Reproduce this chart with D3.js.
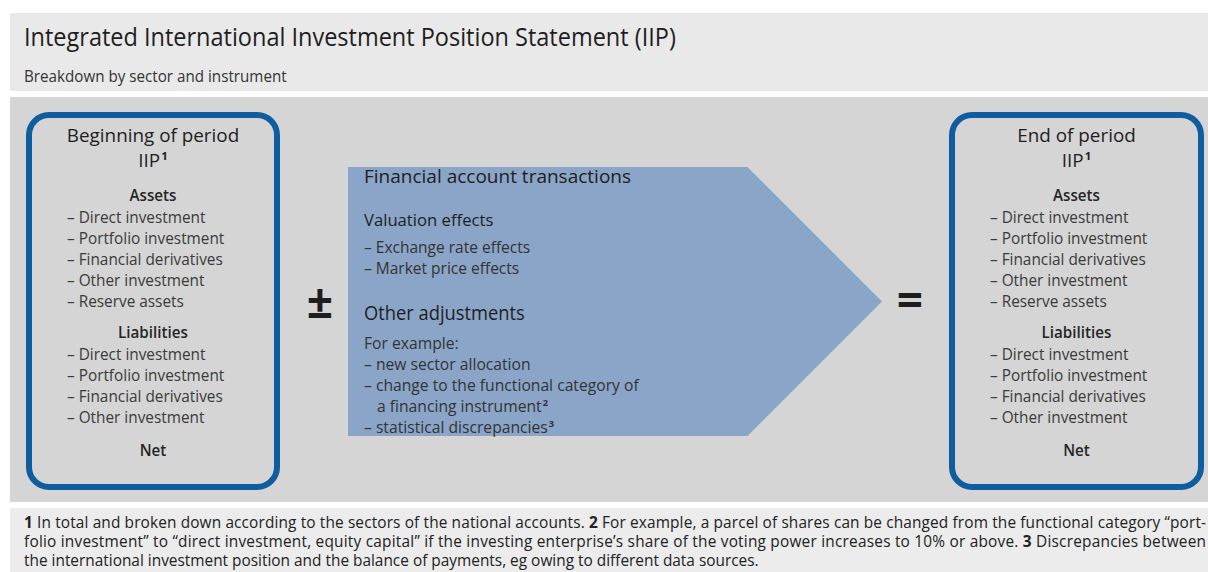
<!DOCTYPE html>
<html>
<head>
<meta charset="utf-8">
<script src="https://cdn.jsdelivr.net/npm/d3@7"></script>
<style>
  body { margin: 0; background: #fff; }
  svg { display: block; }
  text { font-family: "Open Sans", "Noto Sans", sans-serif; fill: #1e1e1e; }
</style>
</head>
<body>
<div id="chart"></div>
<script>
// ---- content ----
const title = "Integrated International Investment Position Statement (IIP)";
const subtitle = "Breakdown by sector and instrument";
const boxTitles = ["Beginning of period", "End of period"];
const assetItems = ["Direct investment", "Portfolio investment", "Financial derivatives", "Other investment", "Reserve assets"];
const liabilityItems = ["Direct investment", "Portfolio investment", "Financial derivatives", "Other investment"];
const flowHeading = "Financial account transactions";
const valuationHeading = "Valuation effects";
const valuationItems = ["Exchange rate effects", "Market price effects"];
const otherHeading = "Other adjustments";
// [text, superscript, indented]
const otherItems = [
  ["For example:", "", false],
  ["– new sector allocation", "", false],
  ["– change to the functional category of", "", false],
  ["a financing instrument", "2", true],
  ["– statistical discrepancies", "3", false]
];
const footnoteLines = [
  [["1", true], [" In total and broken down according to the sectors of the national accounts. ", false], ["2", true], [" For example, a parcel of shares can be changed from the functional category “port-", false]],
  [["folio investment” to “direct investment, equity capital” if the investing enterprise’s share of the voting power increases to 10% or above. ", false], ["3", true], [" Discrepancies between", false]],
  [["the international investment position and the balance of payments, eg owing to different data sources.", false]]
];

// ---- layout ----
const width = 1208, height = 572;
const SX = 0.96;           // horizontal squeeze, the original face is a bit narrower
const blue = "#0f5c9f";
const arrowFill = "#8aa5c8";

const svg = d3.select("#chart").append("svg")
  .attr("width", width).attr("height", height);

function label(g, x, y, str, o = {}) {
  const size = o.size || 15.5;
  const t = g.append("text")
    .attr("transform", `translate(${x},${y}) scale(${o.sx || SX},1)`)
    .attr("text-anchor", o.anchor || "start")
    .style("font-size", size + "px")
    .style("font-weight", o.weight || 400);
  if (o.fill) t.style("fill", o.fill);
  t.append("tspan").text(str);
  if (o.sup) {
    t.append("tspan").attr("dx", 1).attr("dy", -size * 0.36).style("font-size", (size * 0.6) + "px")
      .style("font-weight", 700).text(o.sup);
  }
  return t;
}

// panels
svg.append("rect").attr("x", 10).attr("y", 13).attr("width", width - 10).attr("height", 78).attr("fill", "#e9e9e9");
svg.append("rect").attr("x", 10).attr("y", 97).attr("width", width - 10).attr("height", 405).attr("fill", "#d5d5d5");
svg.append("rect").attr("x", 10).attr("y", 508).attr("width", width - 10).attr("height", 64).attr("fill", "#ececec");

label(svg, 24, 46, title, { size: 25, sx: 0.94 });
label(svg, 24, 82, subtitle, { size: 16, sx: 0.95, fill: "#333" });

// ---- position boxes ----
const itemY = d3.scaleLinear().domain([0, 1]).range([0, 21]);
const boxes = [
  { x: 29, w: 248, name: boxTitles[0] },
  { x: 952, w: 249, name: boxTitles[1] }
];

boxes.forEach(b => {
  const g = svg.append("g");
  g.append("rect")
    .attr("x", b.x).attr("y", 115).attr("width", b.w).attr("height", 372)
    .attr("rx", 20).attr("ry", 20)
    .attr("fill", "none").attr("stroke", blue).attr("stroke-width", 6);
  const cx = b.x + b.w / 2;
  const left = b.x + 38;
  label(g, cx, 142, b.name, { size: 18.5, anchor: "middle", weight: 500, sx: 1.02 });
  label(g, cx, 167, "IIP", { size: 18.5, anchor: "middle", weight: 500, sx: 1.02, sup: "1" });
  label(g, cx, 201, "Assets", { size: 16, anchor: "middle", weight: 600, sx: 0.95, fill: "#252525" });
  assetItems.forEach((d, i) => label(g, left, 223 + itemY(i), "– " + d, { size: 16, fill: "#3a3a3a" }));
  label(g, cx, 338, "Liabilities", { size: 16, anchor: "middle", weight: 600, sx: 0.95, fill: "#252525" });
  liabilityItems.forEach((d, i) => label(g, left, 360 + itemY(i), "– " + d, { size: 16, fill: "#3a3a3a" }));
  label(g, cx, 456, "Net", { size: 16, anchor: "middle", weight: 600, sx: 0.95, fill: "#252525" });
});

// ---- arrow ----
const ax = d3.scaleLinear().domain([0, 1]).range([348, 882]);
const ay = d3.scaleLinear().domain([0, 1]).range([167, 436]);
const arrowPts = [[0, 0], [0.748, 0], [1, 0.5], [0.748, 1], [0, 1]];
svg.append("path")
  .attr("d", d3.line().x(p => ax(p[0])).y(p => ay(p[1])).curve(d3.curveLinearClosed)(arrowPts))
  .attr("fill", arrowFill);

const tx = 364;
label(svg, tx, 183, flowHeading, { size: 19, weight: 500, sx: 1.0 });
label(svg, tx, 226, valuationHeading, { size: 17, weight: 500, sx: 0.98 });
valuationItems.forEach((d, i) => label(svg, tx, 253 + itemY(i), "– " + d, { size: 16, sx: 0.97, fill: "#333" }));
label(svg, tx, 320, otherHeading, { size: 19.5, weight: 500, sx: 0.94 });
otherItems.forEach((d, i) => label(svg, tx + (d[2] ? 13 : 0), 349 + itemY(i), d[0],
  { size: 16, sx: 0.98, fill: "#333", sup: d[1] || null }));

// operators
label(svg, 320, 318, "±", { size: 46, anchor: "middle", weight: 700, sx: 1 });
label(svg, 910, 317, "=", { size: 46, anchor: "middle", weight: 700, sx: 1 });

// ---- footnotes ----
const footW = 1182, footSX = 1.0;
footnoteLines.forEach((line, i) => {
  const t = svg.append("text")
    .attr("transform", `translate(24,${528 + i * 19}) scale(${footSX},1)`)
    .style("font-size", "15.4px")
    .style("fill", "#222");
  if (i < footnoteLines.length - 1) t.attr("textLength", footW / footSX).attr("lengthAdjust", "spacing");
  line.forEach(([s, b]) => t.append("tspan").style("font-weight", b ? 700 : 400).text(s));
});
</script>
</body>
</html>
